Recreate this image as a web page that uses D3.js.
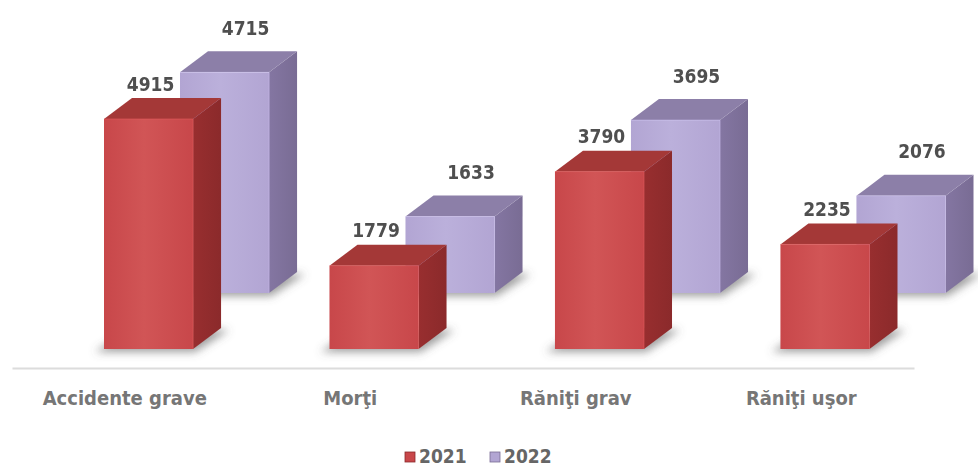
<!DOCTYPE html>
<html>
<head>
<meta charset="utf-8">
<script src="https://cdn.jsdelivr.net/npm/d3@7"></script>
<style>
  body { margin: 0; background: #fff; }
  svg { display: block; }
</style>
</head>
<body>
<div id="chart"></div>
<script>
const categories = ["Accidente grave", "Morţi", "Răniţi grav", "Răniţi uşor"];
const years = ["2021", "2022"];
const values2021 = [4915, 1779, 3790, 2235];
const values2022 = [4715, 1633, 3695, 2076];

const W = 978, H = 468;
const baseY = 349;                       // front row floor
const depth = { dx: 28, dy: -21 };       // depth of one box
const rowShift = { dx: 76, dy: -56 };    // shift from the 2021 row to the 2022 row
const font = "'Liberation Sans Narrow', 'DejaVu Sans Condensed', 'Arial Narrow', sans-serif";

const palette = {
  "2021": { front: "#c8474a", light: "#d15556", side: "#8b2a2b", top: "#a43837", label: { dx: 2, dy: -14 } },
  "2022": { front: "#b2a5d3", light: "#bbb0db", side: "#796c94", top: "#8c7fa8", label: { dx: 21, dy: -23 } }
};

const series = years.map((yr, i) => ({ year: yr, values: i === 0 ? values2021 : values2022 }));

const svg = d3.select("#chart").append("svg")
  .attr("width", W)
  .attr("height", H)
  .style("background", "#fff");

const defs = svg.append("defs");
defs.append("filter").attr("id", "shadow")
  .attr("x", "-50%").attr("y", "-50%").attr("width", "200%").attr("height", "200%")
  .append("feGaussianBlur").attr("stdDeviation", 4);

years.forEach(yr => {
  const c = palette[yr];
  const gf = defs.append("linearGradient").attr("id", "front" + yr)
    .attr("x1", 0).attr("x2", 1).attr("y1", 0).attr("y2", 0);
  gf.append("stop").attr("offset", "0%").attr("stop-color", c.front);
  gf.append("stop").attr("offset", "45%").attr("stop-color", c.light);
  gf.append("stop").attr("offset", "100%").attr("stop-color", c.front);
  const gs = defs.append("linearGradient").attr("id", "side" + yr)
    .attr("x1", 0).attr("x2", 1).attr("y1", 0).attr("y2", 0);
  gs.append("stop").attr("offset", "0%").attr("stop-color", d3.color(c.side).brighter(0.25));
  gs.append("stop").attr("offset", "100%").attr("stop-color", c.side);
});

// scales
const x = d3.scaleBand().domain(categories).range([104, 869.5]).paddingInner(0.605).paddingOuter(0);
const z = d3.scalePoint().domain(years).range([0, 1]);
const h = d3.scaleLinear().domain([0, 5000]).range([0, 234]);
const xAxisScale = d3.scaleBand().domain(categories).range([12, 914]);

// flatten to boxes, back row first so the front row covers it
const boxes = [];
series.slice().reverse().forEach(s => {
  categories.forEach((c, i) => {
    const ox = x(c) + z(s.year) * rowShift.dx;
    const by = baseY + z(s.year) * rowShift.dy;
    boxes.push({ year: s.year, cat: c, value: s.values[i], ox, by, w: x.bandwidth(), ht: h(s.values[i]) });
  });
});

// axis
const axis = svg.append("g")
  .attr("transform", `translate(0,368)`)
  .call(d3.axisBottom(xAxisScale).tickSize(0).tickSizeOuter(0).tickPadding(23));
axis.select(".domain").attr("stroke", "#dcdcdc").attr("stroke-width", 2);
axis.selectAll(".tick text")
  .attr("font-family", font)
  .attr("font-weight", "bold")
  .attr("font-size", 20)
  .attr("fill", "#767676");

// shadows
svg.append("g").attr("filter", "url(#shadow)")
  .selectAll("polygon").data(boxes).join("polygon")
  .attr("points", d => [
    [d.ox - 9, d.by + 3],
    [d.ox + d.w + 2, d.by + 3],
    [d.ox + d.w + depth.dx + 8, d.by + depth.dy + 2],
    [d.ox + depth.dx, d.by + depth.dy]
  ].join(" "))
  .attr("fill", "#5e5e5e")
  .attr("opacity", 0.6);

// boxes
const bar = svg.append("g").selectAll("g").data(boxes).join("g");

bar.append("polygon")
  .attr("points", d => [
    [d.ox + d.w, d.by],
    [d.ox + d.w + depth.dx, d.by + depth.dy],
    [d.ox + d.w + depth.dx, d.by - d.ht + depth.dy],
    [d.ox + d.w, d.by - d.ht]
  ].join(" "))
  .attr("fill", d => `url(#side${d.year})`);

bar.append("polygon")
  .attr("points", d => [
    [d.ox, d.by - d.ht],
    [d.ox + depth.dx, d.by - d.ht + depth.dy],
    [d.ox + d.w + depth.dx, d.by - d.ht + depth.dy],
    [d.ox + d.w, d.by - d.ht]
  ].join(" "))
  .attr("fill", d => palette[d.year].top);

bar.append("rect")
  .attr("x", d => d.ox)
  .attr("y", d => d.by - d.ht)
  .attr("width", d => d.w)
  .attr("height", d => d.ht)
  .attr("fill", d => `url(#front${d.year})`);

// thin highlight on the box edges
bar.append("path")
  .attr("d", d => `M${d.ox},${d.by - d.ht}H${d.ox + d.w}V${d.by}`)
  .attr("fill", "none")
  .attr("stroke", d => d3.color(palette[d.year].light).brighter(0.3))
  .attr("stroke-opacity", 0.5)
  .attr("stroke-width", 1);

// value labels
bar.append("text")
  .attr("x", d => d.ox + d.w / 2 + palette[d.year].label.dx)
  .attr("y", d => d.by - d.ht + depth.dy + palette[d.year].label.dy)
  .attr("dy", "0.35em")
  .attr("text-anchor", "middle")
  .attr("font-family", font)
  .attr("font-weight", "bold")
  .attr("font-size", 19)
  .attr("fill", "#4f4f4f")
  .text(d => d.value);

// legend
const legend = svg.append("g").attr("transform", "translate(405,452)")
  .selectAll("g").data(years).join("g")
  .attr("transform", (d, i) => `translate(${i * 85},0)`);
legend.append("rect")
  .attr("width", 10).attr("height", 10)
  .attr("fill", d => palette[d].front)
  .attr("stroke", d => palette[d].side)
  .attr("stroke-width", 0.8);
legend.append("text")
  .attr("x", 14).attr("y", 10.5)
  .attr("font-family", font)
  .attr("font-weight", "bold")
  .attr("font-size", 19)
  .attr("fill", "#666")
  .text(d => d);
</script>
</body>
</html>
